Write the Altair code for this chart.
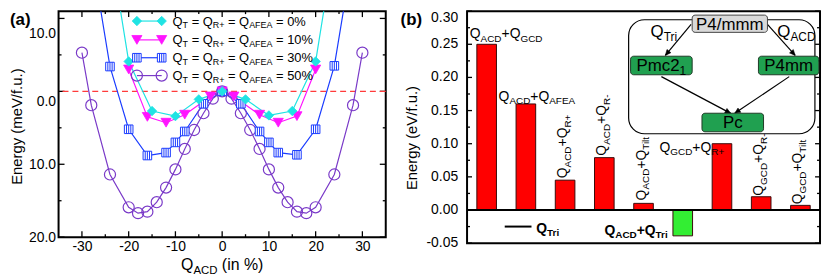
import math
import altair as alt
import pandas as pd

# ---------------- data : panel (a) ----------------
series_labels = ["0%", "10%", "30%", "50%"]
q_0 = [-25, -20, -15, -10, -5, 0, 5, 10, 15, 20, 25]
e_0 = [24.0, 4.1, -2.7, -3.4, -1.1, 0.0, -1.1, -3.3, -2.7, 4.1, 24.0]
q_10 = [-20, -16, -12, -8, -2.5, 0, 2.5, 8, 12, 16, 20]
e_10 = [3.0, -3.5, -4.3, -3.2, -0.7, 0.0, -0.7, -3.2, -4.3, -3.4, 3.0]
q_30 = [-28, -24, -20, -16, -12, -10, -8, -4, 0, 4, 8, 10, 12, 16, 20, 24, 28]
e_30 = [19.0, 3.4, -5.2, -8.8, -8.4, -7.0, -5.5, -1.7, 0.0, -1.7, -5.5, -7.0, -8.4, -8.7, -5.2, 3.5, 19.0]
q_50 = [-30, -28, -24, -20, -18, -16, -14, -12, -10, -8, -6, -4, -2, 0,
        2, 4, 6, 8, 10, 12, 14, 16, 18, 20, 24, 28, 30]
e_50 = [5.3, -1.9, -11.4, -15.9, -16.7, -16.5, -15.2, -13.2, -10.7, -7.9, -5.3, -3.0, -1.0, 0.0,
        -1.0, -3.0, -5.3, -7.9, -10.7, -13.2, -15.2, -16.5, -16.7, -15.9, -11.4, -1.9, 5.3]
qacd_major = [-30, -20, -10, 0, 10, 20, 30]
qacd_minor = [-25, -15, -5, 5, 15, 25]
ea_major = [-20, -10, 0, 10]
ea_minor = [-15, -5, 5]
legend_parts = [("Q", "T"), (" = Q", "R+"), (" = Q", "AFEA")]
xtitle_parts = [("Q", "ACD"), (" (in %)", "")]

# ---------------- data : panel (b) ----------------
bar_keys = ["ACD+GCD", "ACD+AFEA", "ACD+R+", "ACD+R-", "ACD+Tilt",
            "ACD+Tri", "GCD+R+", "GCD+R-", "GCD+Tilt"]
bar_values = [0.250, 0.160, 0.045, 0.079, 0.010, -0.039, 0.100, 0.020, 0.007]
bar_label_parts = [
    [("Q", "ACD"), ("+Q", "GCD")],
    [("Q", "ACD"), ("+Q", "AFEA")],
    [("Q", "ACD"), ("+Q", "R+")],
    [("Q", "ACD"), ("+Q", "R-")],
    [("Q", "ACD"), ("+Q", "Tilt")],
    None,
    [("Q", "GCD"), ("+Q", "R+")],
    [("Q", "GCD"), ("+Q", "R-")],
    [("Q", "GCD"), ("+Q", "Tilt")],
]
eb_major = [-0.05, 0.0, 0.05, 0.10, 0.15, 0.20, 0.25, 0.30]
eb_labels = ["-0.05", "0.00", "0.05", "0.10", "0.15", "0.20", "0.25", "0.30"]
eb_minor = [-0.025, 0.025, 0.075, 0.125, 0.175, 0.225, 0.275]
yb_title = "Energy (eV/f.u.)"
tri_key_parts = [("Q", "Tri")]
neg_label_parts = [("Q", "ACD"), ("+Q", "Tri")]
node_labels = [[("P4/mmm", "")], [("Pmc2", "1")], [("P4mm", "")], [("Pc", "")]]
path_labels = [[("Q", "Tri")], [("Q", "ACD")]]

# ---------------- styling / layout ----------------
FONT = "Liberation Sans"
CYAN, MAGENTA, BLUE, PURPLE = "#1fe3e3", "#ff14ff", "#1a3cff", "#7a3ac8"
series_colors = [CYAN, MAGENTA, BLUE, PURPLE]
RED, GREEN, NODE_GREEN, NODE_GRAY = "#ff0000", "#33ee33", "#20a050", "#d9d9d9"

RW = {' ': 278, 'Q': 778, 'T': 611, 'R': 722, 'A': 667, 'F': 611, 'E': 667, 'C': 722,
      'D': 722, 'G': 778, '+': 584, '-': 333, '=': 584, '%': 889, '(': 333, ')': 333,
      'i': 222, 'n': 556, 'l': 222, 't': 278, 'r': 333, 'P': 667, '/': 278, 'm': 833, 'c': 500}
BW = {' ': 278, 'Q': 778, 'T': 611, 'A': 722, 'C': 722, 'D': 722, '+': 584, 'r': 389, 'i': 278}


def tw(s, fs, bold=False):
    tab = BW if bold else RW
    return sum(tab.get(ch, 556) for ch in s) * fs / 1000.0


def segs(pairs):
    out = []
    for m, s in pairs:
        if m:
            out.append((m, False))
        if s:
            out.append((s, True))
    return out


def run_width(parts, fs, fsub, bold=False):
    return sum(tw(t, fsub if sub else fs, bold) for t, sub in parts)


def text_run(df, enc, parts, fs, fsub, shift, dx0=0.0, dy0=0.0, angle=0, bold=False):
    layers = []
    off = dx0
    for t, sub in parts:
        size = fsub if sub else fs
        core = t.strip(' ')
        lead = len(t) - len(t.lstrip(' '))
        off += tw(' ' * lead, size, bold)
        if core:
            props = dict(text=core, font=FONT, fontSize=size,
                         fontWeight='bold' if bold else 'normal',
                         align='left', baseline='alphabetic', dx=round(off, 2),
                         dy=round(dy0 + (shift if sub else 0), 2), color='black')
            if angle:
                props['angle'] = angle
            layers.append(alt.Chart(df).mark_text(**props).encode(**enc))
        off += tw(core, size, bold)
        off += tw(' ' * (len(t) - lead - len(core)), size, bold)
    return layers


# ================= panel (a) =================
W_A, H_A = 330, 228
XA = [-35.0, 35.0]
YA = [-20.0, 11.0]


def qa(px):
    return XA[0] + px * (XA[1] - XA[0]) / W_A


def ea(py):
    return YA[1] - py * (YA[1] - YA[0]) / H_A


sx = alt.Scale(domain=XA, nice=False, zero=False)
sy = alt.Scale(domain=YA, nice=False, zero=False)
scol = alt.Scale(domain=series_labels, range=series_colors)


def XA_(f):
    return alt.X(f'{f}:Q', scale=sx)


def YA_(f):
    return alt.Y(f'{f}:Q', scale=sy)


qs = [q_0, q_10, q_30, q_50]
es = [e_0, e_10, e_30, e_50]
curve = pd.DataFrame([{'s': lab, 'q': q, 'e': e}
                      for lab, qq, ee in zip(series_labels, qs, es)
                      for q, e in zip(qq, ee)])

x_axis_a = alt.Axis(values=qacd_major, labelExpr='datum.value', ticks=False, domain=False,
                    grid=False, labelPadding=2, labelFontSize=14, labelFont=FONT,
                    labelColor='black', labelFlush=False, labelOverlap=False, title=None)
y_axis_a = alt.Axis(values=ea_major, labelExpr="format(abs(datum.value), '.1f')", ticks=False,
                    domain=False, grid=False, labelPadding=3, labelFontSize=14, labelFont=FONT,
                    labelColor='black', labelOverlap=False,
                    labelOffset={'condition': [{'test': 'datum.value == 10', 'value': 15},
                                               {'test': 'datum.value == 0', 'value': 10}],
                                 'value': 0},
                    title='Energy (meV/f.u.)', titleFont=FONT, titleFontSize=15,
                    titleFontWeight='normal', titleColor='black', titlePadding=4, titleY=116)

layers_a = []
# first layer: invisible, carries the axes
inside = curve[(curve['e'] <= YA[1]) & (curve['e'] >= YA[0])]
layers_a.append(alt.Chart(inside).mark_point(opacity=0, clip=True).encode(
    x=alt.X('q:Q', scale=sx, axis=x_axis_a),
    y=alt.Y('e:Q', scale=sy, axis=y_axis_a)))
# ticks (inward, all four sides)
for vals, ln in [(qacd_major, 6), (qacd_minor, 3)]:
    d = pd.DataFrame({'t': vals})
    layers_a.append(alt.Chart(d).mark_rule(color='black', strokeWidth=1.3).encode(
        x=XA_('t'), y=alt.value(H_A), y2=alt.value(H_A - ln)))
    layers_a.append(alt.Chart(d).mark_rule(color='black', strokeWidth=1.3).encode(
        x=XA_('t'), y=alt.value(0), y2=alt.value(ln)))
for vals, ln in [(ea_major, 6), (ea_minor, 3)]:
    d = pd.DataFrame({'t': vals})
    layers_a.append(alt.Chart(d).mark_rule(color='black', strokeWidth=1.3).encode(
        y=YA_('t'), x=alt.value(0), x2=alt.value(ln)))
    layers_a.append(alt.Chart(d).mark_rule(color='black', strokeWidth=1.3).encode(
        y=YA_('t'), x=alt.value(W_A - ln), x2=alt.value(W_A)))

layers_a.append(alt.Chart(pd.DataFrame({'e': [0.0]})).mark_rule(
    color='#ff3b3b', strokeDash=[6, 4], strokeWidth=1.3).encode(y=YA_('e')))

layers_a.append(alt.Chart(curve).mark_line(strokeWidth=1.2, clip=True).encode(
    x=XA_('q'), y=YA_('e'),
    color=alt.Color('s:N', scale=scol, legend=None)))

SQ_PATH = "M-1,-1L1,-1L1,1L-1,1Z M-0.5,-1L-0.5,1 M0,-1L0,1 M0.5,-1L0.5,1"
marker = {
    "0%": dict(shape='diamond', filled=True, fill=CYAN, stroke=CYAN, strokeWidth=0.8, size=90),
    "10%": dict(shape='triangle-down', filled=True, fill=MAGENTA, stroke=MAGENTA,
                strokeWidth=0.8, size=105),
    "30%": dict(shape=SQ_PATH, filled=True, fill='white', stroke=BLUE, strokeWidth=1, size=75),
    "50%": dict(shape='circle', filled=False, stroke=PURPLE, strokeWidth=1.2, size=125),
}


def marker_layer(df, lab):
    return alt.Chart(df).mark_point(opacity=1, clip=True, **marker[lab]).encode(
        x=XA_('q'), y=YA_('e'))


for lab in ["50%", "30%", "10%", "0%"]:
    layers_a.append(marker_layer(curve[curve['s'] == lab], lab))

# legend (manual)
leg_rows_px = [10, 29, 47, 65]
leg_m1, leg_m2, leg_tx = 79, 104, 115
leg = pd.DataFrame({'s': series_labels, 'e': [ea(p) for p in leg_rows_px],
                    'q1': qa(leg_m1), 'q2': qa(leg_m2), 'qt': qa(leg_tx),
                    'tail': ['= ' + s for s in series_labels]})
layers_a.append(alt.Chart(leg).mark_rule(strokeWidth=1.2).encode(
    x=XA_('q1'), x2='q2:Q', y=YA_('e'), color=alt.Color('s:N', scale=scol, legend=None)))
for lab, e in zip(series_labels, leg['e']):
    d = pd.DataFrame({'q': [qa(leg_m1), qa(leg_m2)], 'e': [e, e]})
    layers_a.append(marker_layer(d, lab))
lp = segs(legend_parts)
layers_a += text_run(leg, dict(x=XA_('qt'), y=YA_('e')), lp, 13, 9, 3, 0, 4.5)
tail_off = run_width(lp, 13, 9) + tw(' ', 13)
layers_a.append(alt.Chart(leg).mark_text(font=FONT, fontSize=13, align='left',
                                         baseline='alphabetic', dx=round(tail_off, 2), dy=4.5,
                                         color='black').encode(
    x=XA_('qt'), y=YA_('e'), text='tail:N'))

# x title with subscript
xt = segs(xtitle_parts)
xt_w = run_width(xt, 16, 11.5)
layers_a += text_run(pd.DataFrame({'q': [0.0], 'e': [YA[0]]}), dict(x=XA_('q'), y=YA_('e')),
                     xt, 16, 11.5, 4, -xt_w / 2, 33)

layers_a.append(alt.Chart(pd.DataFrame({'z': [0]})).mark_text(
    text='(a)', font=FONT, fontSize=17, fontWeight='bold', align='left',
    baseline='alphabetic', color='black').encode(x=alt.value(-49), y=alt.value(14)))

panel_a = alt.layer(*layers_a).properties(width=W_A, height=H_A)

# ================= panel (b) =================
W_B, H_B = 356, 234
YB = [-0.05, 0.30]
sb_y = alt.Scale(domain=YB, nice=False, zero=False)
sb_x = alt.Scale(type='band', domain=bar_keys, paddingInner=0.5, paddingOuter=0.25)
su = alt.Scale(domain=[0, 9], nice=False, zero=False)


def XB():
    return alt.X('k:N', scale=sb_x, axis=None)


def YB_(f='v'):
    return alt.Y(f'{f}:Q', scale=sb_y, axis=None)


def XU(f):
    return alt.X(f'{f}:Q', scale=su, axis=None)


bdf = pd.DataFrame({'k': bar_keys, 'v': bar_values})

band_layers = []
for vals, ln in [(eb_major, 5), (eb_minor, 3)]:
    d = pd.DataFrame({'v': vals})
    band_layers.append(alt.Chart(d).mark_rule(color='black', strokeWidth=1.3).encode(
        y=YB_(), x=alt.value(0), x2=alt.value(ln)))
    band_layers.append(alt.Chart(d).mark_rule(color='black', strokeWidth=1.3).encode(
        y=YB_(), x=alt.value(W_B - ln), x2=alt.value(W_B)))

# y tick labels and title (as text, through the y scale)
ylab = pd.DataFrame({'v': eb_major, 'lab': eb_labels})
band_layers.append(alt.Chart(ylab[ylab['v'] < 0.29]).mark_text(
    font=FONT, fontSize=14, align='right', baseline='middle', color='black', dx=-9).encode(
    x=alt.value(0), y=YB_(), text='lab:N'))
band_layers.append(alt.Chart(ylab[ylab['v'] > 0.29]).mark_text(
    font=FONT, fontSize=14, align='right', baseline='top', color='black', dx=-9).encode(
    x=alt.value(0), y=YB_(), text='lab:N'))
band_layers.append(alt.Chart(pd.DataFrame({'z': [0]})).mark_text(
    text=yb_title, font=FONT, fontSize=15, align='center', baseline='alphabetic',
    angle=270, color='black').encode(x=alt.value(-50), y=alt.value(128)))

band_layers.append(alt.Chart(bdf).mark_bar(stroke='#3a0a0a', strokeWidth=1).encode(
    x=XB(), y=YB_(), y2=alt.datum(0),
    color=alt.condition('datum.v < 0', alt.value(GREEN), alt.value(RED))))

band_layers.append(alt.Chart(pd.DataFrame({'v': [0.0]})).mark_rule(
    color='black', strokeWidth=2).encode(y=YB_()))

bar_label_layout = [(0, -17, -6), (0, -27.5, -3), (270, 2, 2), (270, 2, 2), (270, 3, 2),
                    None, (0, -63, 8), (270, 1, 2), (270, 1, 2)]
for i, parts in enumerate(bar_label_parts):
    if parts is None:
        continue
    ang, dx0, dy0 = bar_label_layout[i]
    band_layers += text_run(bdf.iloc[[i]], dict(x=XB(), y=YB_()), segs(parts),
                            14, 10, 3.5, dx0, dy0, ang)

# bold annotations near the negative bar
band_layers.append(alt.Chart(pd.DataFrame({'v': [-0.025]})).mark_rule(
    color='black', strokeWidth=2).encode(x=alt.value(38), x2=alt.value(65), y=YB_()))
band_layers += text_run(pd.DataFrame({'k': [bar_keys[1]], 'v': [-0.034]}),
                        dict(x=XB(), y=YB_()), segs(tri_key_parts), 14, 10, 3.5,
                        10.5, 0, 0, bold=True)
band_layers += text_run(pd.DataFrame({'k': [bar_keys[5]], 'v': [-0.037]}),
                        dict(x=XB(), y=YB_()), segs(neg_label_parts), 14, 10, 3.5,
                        -79, 0, 0, bold=True)
band_layers.append(alt.Chart(pd.DataFrame({'z': [0]})).mark_text(
    text='(b)', font=FONT, fontSize=17, fontWeight='bold', align='left',
    baseline='alphabetic', color='black').encode(x=alt.value(-67), y=alt.value(14)))

# ----- inset phase diagram (slot units x, energy units y) -----
inset_layers = []
box = pd.DataFrame({'u1': [4.12], 'u2': [8.87], 'v1': [0.115], 'v2': [0.287]})
inset_layers.append(alt.Chart(box).mark_rect(cornerRadius=16, fill='white', stroke='black',
                                             strokeWidth=1.2).encode(
    x=XU('u1'), x2='u2:Q', y=YB_('v1'), y2='v2:Q'))

arrows = pd.DataFrame({'u1': [5.713, 7.659, 4.955, 8.215],
                       'v1': [0.2799, 0.2799, 0.2012, 0.2012],
                       'u2': [5.056, 8.367, 6.724, 6.825],
                       'v2': [0.2332, 0.2332, 0.1458, 0.1458]})
arrows['ang'] = [math.degrees(math.atan2((r.u2 - r.u1) * W_B / 9.0,
                                         (r.v2 - r.v1) * H_B / (YB[1] - YB[0]))) % 360
                 for r in arrows.itertuples()]
inset_layers.append(alt.Chart(arrows).mark_rule(color='black', strokeWidth=1.2).encode(
    x=XU('u1'), x2='u2:Q', y=YB_('v1'), y2='v2:Q'))
ARROW_PATH = "M0,0L-0.45,1L0.45,1Z"
inset_layers.append(alt.Chart(arrows).mark_point(
    shape=ARROW_PATH, filled=True, fill='black', stroke='black', strokeWidth=0.5,
    size=130, opacity=1).encode(
    x=XU('u2'), y=YB_('v2'), angle=alt.Angle('ang:Q', scale=None)))

nodes = pd.DataFrame({'u1': [5.74, 4.17, 7.43, 5.99], 'u2': [7.66, 5.74, 8.97, 7.56],
                      'v1': [0.268, 0.204, 0.204, 0.118], 'v2': [0.294, 0.232, 0.232, 0.146]})
inset_layers.append(alt.Chart(nodes.iloc[[0]]).mark_rect(
    cornerRadius=3, fill=NODE_GRAY, stroke='#444444', strokeWidth=1).encode(
    x=XU('u1'), x2='u2:Q', y=YB_('v1'), y2='v2:Q'))
inset_layers.append(alt.Chart(nodes.iloc[1:]).mark_rect(
    cornerRadius=3, fill=NODE_GREEN, stroke='#1f3a26', strokeWidth=1).encode(
    x=XU('u1'), x2='u2:Q', y=YB_('v1'), y2='v2:Q'))
for i, lab in enumerate(node_labels):
    r = nodes.iloc[i]
    p = segs(lab)
    wdt = run_width(p, 17, 12)
    d = pd.DataFrame({'u': [(r.u1 + r.u2) / 2], 'v': [(r.v1 + r.v2) / 2]})
    inset_layers += text_run(d, dict(x=XU('u'), y=YB_('v')), p, 17, 12, 4, -wdt / 2, 6)

path_anchor = [(4.68, 0.261), (7.91, 0.261)]
for lab, (u, v) in zip(path_labels, path_anchor):
    d = pd.DataFrame({'u': [u], 'v': [v]})
    inset_layers += text_run(d, dict(x=XU('u'), y=YB_('v')), segs(lab), 17, 12, 4, 0, 0)

panel_b = alt.layer(alt.layer(*band_layers), alt.layer(*inset_layers)).resolve_scale(
    x='independent').properties(width=W_B, height=H_B)

chart = alt.hconcat(panel_a, panel_b, spacing=12).properties(
    padding=0, background='white'
).configure(font=FONT).configure_view(stroke='black', strokeWidth=2).configure_axis(
    labelFont=FONT, titleFont=FONT, labelColor='black', titleColor='black')

chart.save("out.html", embed_options={"renderer": "svg", "actions": False})
